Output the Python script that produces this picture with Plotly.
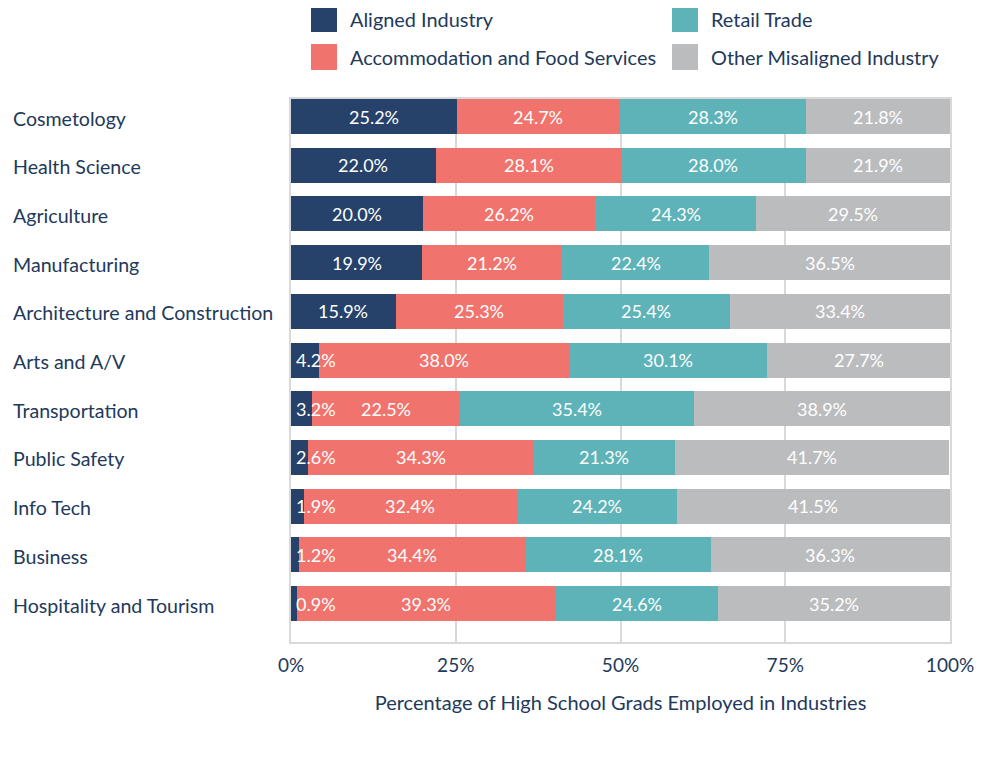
import plotly.graph_objects as go

categories = ["Cosmetology", "Health Science", "Agriculture", "Manufacturing",
              "Architecture and Construction", "Arts and A/V", "Transportation",
              "Public Safety", "Info Tech", "Business", "Hospitality and Tourism"]
aligned = [25.2, 22.0, 20.0, 19.9, 15.9, 4.2, 3.2, 2.6, 1.9, 1.2, 0.9]
accommodation = [24.7, 28.1, 26.2, 21.2, 25.3, 38.0, 22.5, 34.3, 32.4, 34.4, 39.3]
retail = [28.3, 28.0, 24.3, 22.4, 25.4, 30.1, 35.4, 21.3, 24.2, 28.1, 24.6]
other = [21.8, 21.9, 29.5, 36.5, 33.4, 27.7, 38.9, 41.7, 41.5, 36.3, 35.2]
series_names = ["Aligned Industry", "Accommodation and Food Services",
                "Retail Trade", "Other Misaligned Industry"]
x_ticks = [0, 25, 50, 75, 100]
x_tick_labels = ["0%", "25%", "50%", "75%", "100%"]

colors = ["#26426A", "#F0746D", "#5DB3B7", "#BBBCBE"]
navy = "#22395B"
FONT = "Lato"

OFF = 8  # page body offset
W, H = 987, 760
L, R, T, B = 283, 45, 91, 126
PW, PH = W - L - R, H - T - B


def px(x):
    return (x - OFF - L) / PW


def py(y):
    return (H - B - (y - OFF)) / PH


fig = go.Figure()
series = [aligned, accommodation, retail, other]
for name, vals, col in zip(series_names, series, colors):
    fig.add_trace(go.Bar(
        y=categories, x=vals, name=name, orientation="h",
        marker=dict(color=col, line=dict(width=0)),
        showlegend=False, hoverinfo="x+y+name",
    ))

annotations = []
# value labels
for i, cat in enumerate(categories):
    start = 0.0
    for k, vals in enumerate(series):
        v = vals[i]
        label = f"{v:.1f}%"
        if k == 0 and v < 6:
            annotations.append(dict(x=0, y=cat, xref="x", yref="y", text=label,
                                    showarrow=False, xanchor="left", xshift=3,
                                    font=dict(family=FONT, size=18, color="white")))
        else:
            annotations.append(dict(x=start + v / 2, y=cat, xref="x", yref="y", text=label,
                                    showarrow=False, xanchor="center",
                                    font=dict(family=FONT, size=18, color="white")))
        start += v

# category labels, left aligned
for cat in categories:
    annotations.append(dict(x=px(11), y=cat, xref="paper", yref="y", text=cat,
                            showarrow=False, xanchor="left", yshift=-1.5,
                            font=dict(family=FONT, size=19.6, color=navy)))

# manual legend
shapes = []
legend_layout = [(0, 311, 6), (2, 672, 6), (1, 311, 44), (3, 672, 44)]
for idx, sx, sy in legend_layout:
    shapes.append(dict(type="rect", xref="paper", yref="paper",
                       x0=px(sx), x1=px(sx + 26), y0=py(sy + 26), y1=py(sy),
                       fillcolor=colors[idx], line=dict(width=0)))
    annotations.append(dict(x=px(sx + 37), y=py(sy + 13), xref="paper", yref="paper",
                            text=series_names[idx], showarrow=False,
                            xanchor="left", yanchor="middle",
                            font=dict(family=FONT, size=19.9, color=navy)))

fig.update_layout(
    width=W, height=H,
    margin=dict(l=L, r=R, t=T, b=B),
    barmode="stack", bargap=0.28,
    plot_bgcolor="white", paper_bgcolor="white",
    font=dict(family=FONT, color=navy),
    annotations=annotations, shapes=shapes,
    xaxis=dict(range=[0, 100], tickvals=x_ticks, ticktext=x_tick_labels,
               showgrid=True, gridcolor="#D9D9D9", gridwidth=1.5,
               showline=True, mirror=True, linecolor="#D9D9D9", linewidth=1.5,
               zeroline=False, ticks="", ticklabelstandoff=5,
               tickfont=dict(family=FONT, size=19, color=navy),
               title=dict(text="Percentage of High School Grads Employed in Industries",
                          font=dict(family=FONT, size=20, color=navy), standoff=21)),
    yaxis=dict(type="category", categoryorder="array", categoryarray=categories,
               range=[10.79, -0.36], showticklabels=False, showgrid=False,
               showline=True, mirror=True, linecolor="#D9D9D9", linewidth=1.5,
               zeroline=False, ticks=""),
)

fig.write_html("out.html")
